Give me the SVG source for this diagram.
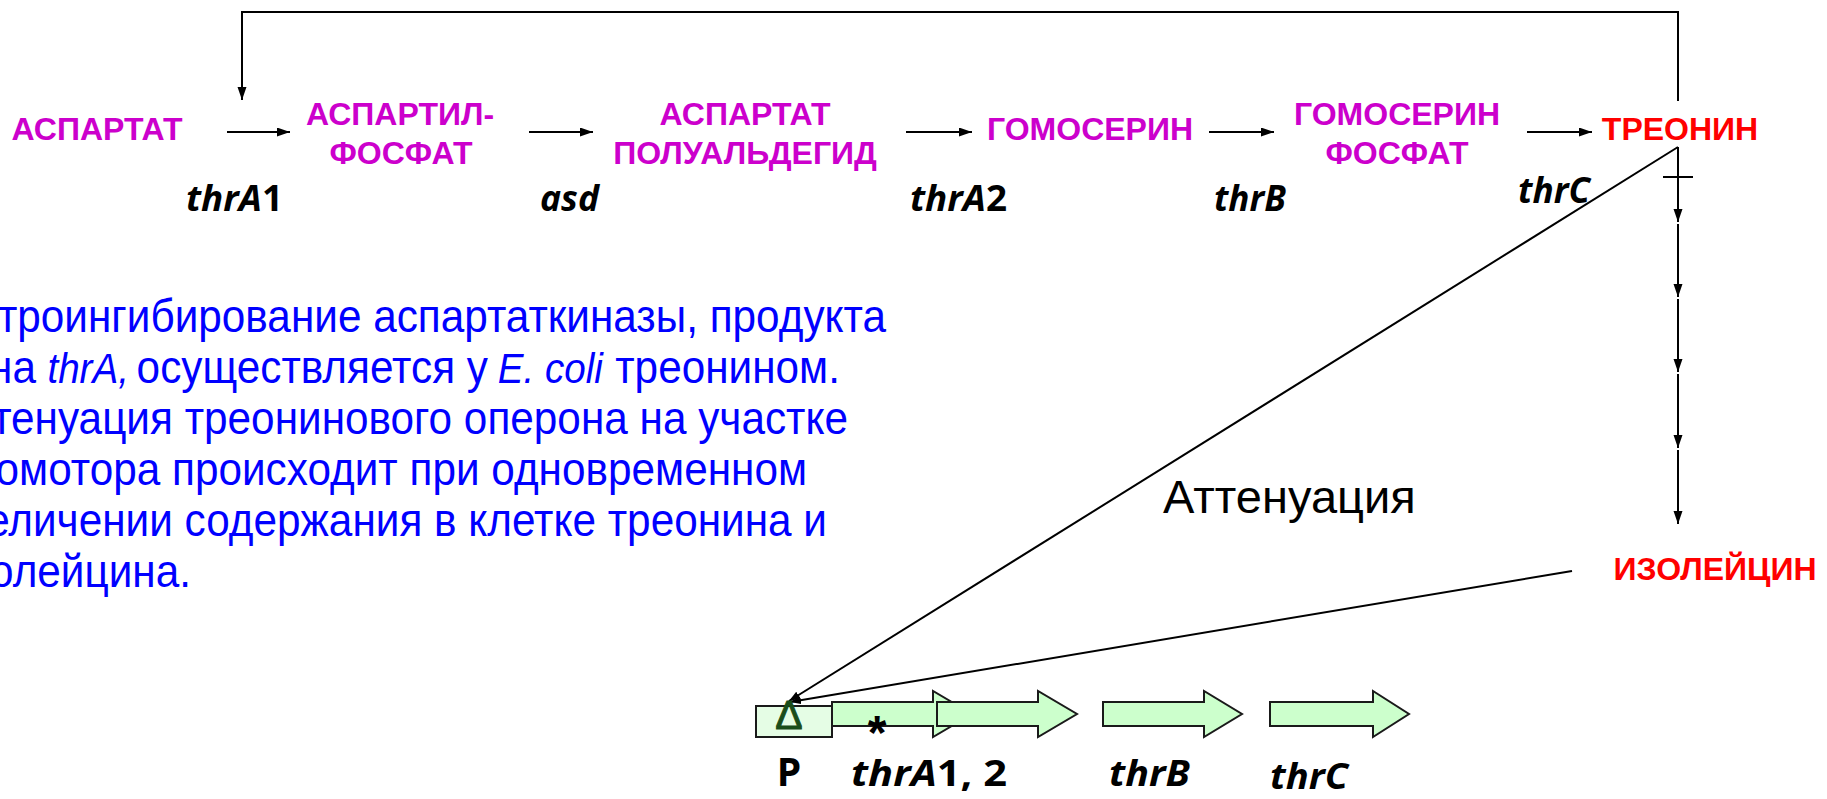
<svg xmlns="http://www.w3.org/2000/svg" width="1827" height="799" viewBox="0 0 1827 799">
<style>
.met{font-family:"Liberation Sans",Arial,sans-serif;font-weight:bold;font-size:32px;fill:#cc00cc;text-anchor:middle}
.red{fill:#ff0000}
.gene{font-family:"Open Sans","Liberation Sans",sans-serif;font-weight:bold;font-size:36px;fill:#000}
.it{font-style:italic}
.blue{font-family:"Liberation Sans",Arial,sans-serif;font-size:46px;fill:#0000ff;text-anchor:end}
.bi{font-style:italic;font-size:42px}
.ln{stroke:#000;stroke-width:2;fill:none}
.ga{fill:#ccffcc;stroke:#1a1a1a;stroke-width:2}
</style>
<defs>
<marker id="ah" markerUnits="userSpaceOnUse" markerWidth="14" markerHeight="10" refX="13" refY="4.5" orient="auto">
<path d="M0,0 L13,4.5 L0,9 z" fill="#000"/>
</marker>
<marker id="ahs" markerUnits="userSpaceOnUse" markerWidth="12" markerHeight="9" refX="11" refY="4" orient="auto">
<path d="M0,0 L11,4 L0,8 z" fill="#000"/>
</marker>
</defs>
<rect width="1827" height="799" fill="#fff"/>

<g id="connectors">
<line class="ln" x1="227" y1="132" x2="290" y2="132" marker-end="url(#ah)"/>
<line class="ln" x1="529" y1="132" x2="593" y2="132" marker-end="url(#ah)"/>
<line class="ln" x1="906" y1="132" x2="972" y2="132" marker-end="url(#ah)"/>
<line class="ln" x1="1209" y1="132" x2="1274" y2="132" marker-end="url(#ah)"/>
<line class="ln" x1="1527" y1="132" x2="1592" y2="132" marker-end="url(#ah)"/>
<path class="ln" d="M1678,101 V12 H242 V100" marker-end="url(#ah)"/>
<line class="ln" x1="1678" y1="147" x2="1678" y2="222" marker-end="url(#ah)"/>
<line class="ln" x1="1663" y1="177" x2="1693" y2="177"/>
<line class="ln" x1="1678" y1="224" x2="1678" y2="297" marker-end="url(#ah)"/>
<line class="ln" x1="1678" y1="299" x2="1678" y2="372" marker-end="url(#ah)"/>
<line class="ln" x1="1678" y1="374" x2="1678" y2="448" marker-end="url(#ah)"/>
<line class="ln" x1="1678" y1="450" x2="1678" y2="524" marker-end="url(#ah)"/>
<line class="ln" x1="1678" y1="147" x2="789" y2="701" marker-end="url(#ahs)"/>
<line class="ln" x1="1572" y1="571" x2="790" y2="702" marker-end="url(#ahs)"/>
</g>

<g id="aspartate"><text class="met" x="97" y="140">АСПАРТАТ</text></g>
<g id="aspartylphosphate"><text class="met" x="400" y="125">АСПАРТИЛ-</text><text class="met" x="401" y="164">ФОСФАТ</text></g>
<g id="aspsemialdehyde"><text class="met" x="745" y="125">АСПАРТАТ</text><text class="met" x="745" y="164">ПОЛУАЛЬДЕГИД</text></g>
<g id="homoserine"><text class="met" x="1090" y="140">ГОМОСЕРИН</text></g>
<g id="homoserinephosphate"><text class="met" x="1397" y="125">ГОМОСЕРИН</text><text class="met" x="1397" y="164">ФОСФАТ</text></g>
<g id="threonine"><text class="met red" x="1680" y="140">ТРЕОНИН</text></g>
<g id="isoleucine"><text class="met red" x="1715" y="580">ИЗОЛЕЙЦИН</text></g>

<g id="enzymes">
<text class="gene" x="186" y="211" textLength="97" lengthAdjust="spacingAndGlyphs"><tspan class="it">thrA</tspan>1</text>
<text class="gene it" x="540" y="211" textLength="59" lengthAdjust="spacingAndGlyphs">asd</text>
<text class="gene" x="910" y="211" textLength="97" lengthAdjust="spacingAndGlyphs"><tspan class="it">thrA</tspan>2</text>
<text class="gene it" x="1214" y="211" textLength="72" lengthAdjust="spacingAndGlyphs">thrB</text>
<text class="gene it" x="1518" y="203" textLength="72" lengthAdjust="spacingAndGlyphs">thrC</text>
</g>

<g id="attenuation"><text x="1163" y="513" style="font-family:'Liberation Sans',Arial,sans-serif;font-size:47px;fill:#000">Аттенуация</text></g>

<g id="description" transform="scale(0.92,1)">
<text class="blue" x="963" y="332">троингибирование аспартаткиназы, продукта</text>
<text class="blue" y="383"><tspan x="39.1">на</tspan><tspan class="bi" x="140.2">thrA,</tspan><tspan x="530.4">осуществляется у</tspan><tspan class="bi" x="655.4">E. coli</tspan><tspan x="913">треонином.</tspan></text>
<text class="blue" x="921.7" y="434">тенуация треонинового оперона на участке</text>
<text class="blue" x="877.2" y="485">омотора происходит при одновременном</text>
<text class="blue" x="898.9" y="536">еличении содержания в клетке треонина и</text>
<text class="blue" x="207.6" y="587">олейцина.</text>
</g>

<g id="promoter">
<rect x="756" y="706" width="76" height="31" fill="#e5fde5" stroke="#1a1a1a" stroke-width="2"/>
<text x="789" y="729" style="font-family:'Liberation Sans',Arial,sans-serif;font-size:41px;fill:#1a4d1a;stroke:#1a4d1a;stroke-width:1;text-anchor:middle">Δ</text>
<text x="789" y="786" style="font-family:'Open Sans','Liberation Sans',sans-serif;font-weight:bold;font-size:39px;fill:#000;text-anchor:middle">P</text>
</g>
<g id="gene-thrA1">
<path class="ga" d="M832,702 H933 V691 L972,714 L933,737 V726 H832 z"/>
<text x="877" y="749" style="font-family:'Liberation Sans',Arial,sans-serif;font-weight:bold;font-size:48px;fill:#000;text-anchor:middle">*</text>
</g>
<g id="gene-thrA2">
<path class="ga" d="M937,702 H1038 V691 L1077,714 L1038,737 V726 H937 z"/>
<text class="gene" x="851" y="786" textLength="156" lengthAdjust="spacingAndGlyphs"><tspan class="it">thrA</tspan>1, 2</text>
</g>
<g id="gene-thrB">
<path class="ga" d="M1103,702 H1204 V691 L1242,714 L1204,737 V726 H1103 z"/>
<text class="gene it" x="1109" y="786" textLength="81" lengthAdjust="spacingAndGlyphs">thrB</text>
</g>
<g id="gene-thrC">
<path class="ga" d="M1270,702 H1373 V691 L1409,714 L1373,737 V726 H1270 z"/>
<text class="gene it" x="1270" y="789" textLength="78" lengthAdjust="spacingAndGlyphs">thrC</text>
</g>
</svg>
